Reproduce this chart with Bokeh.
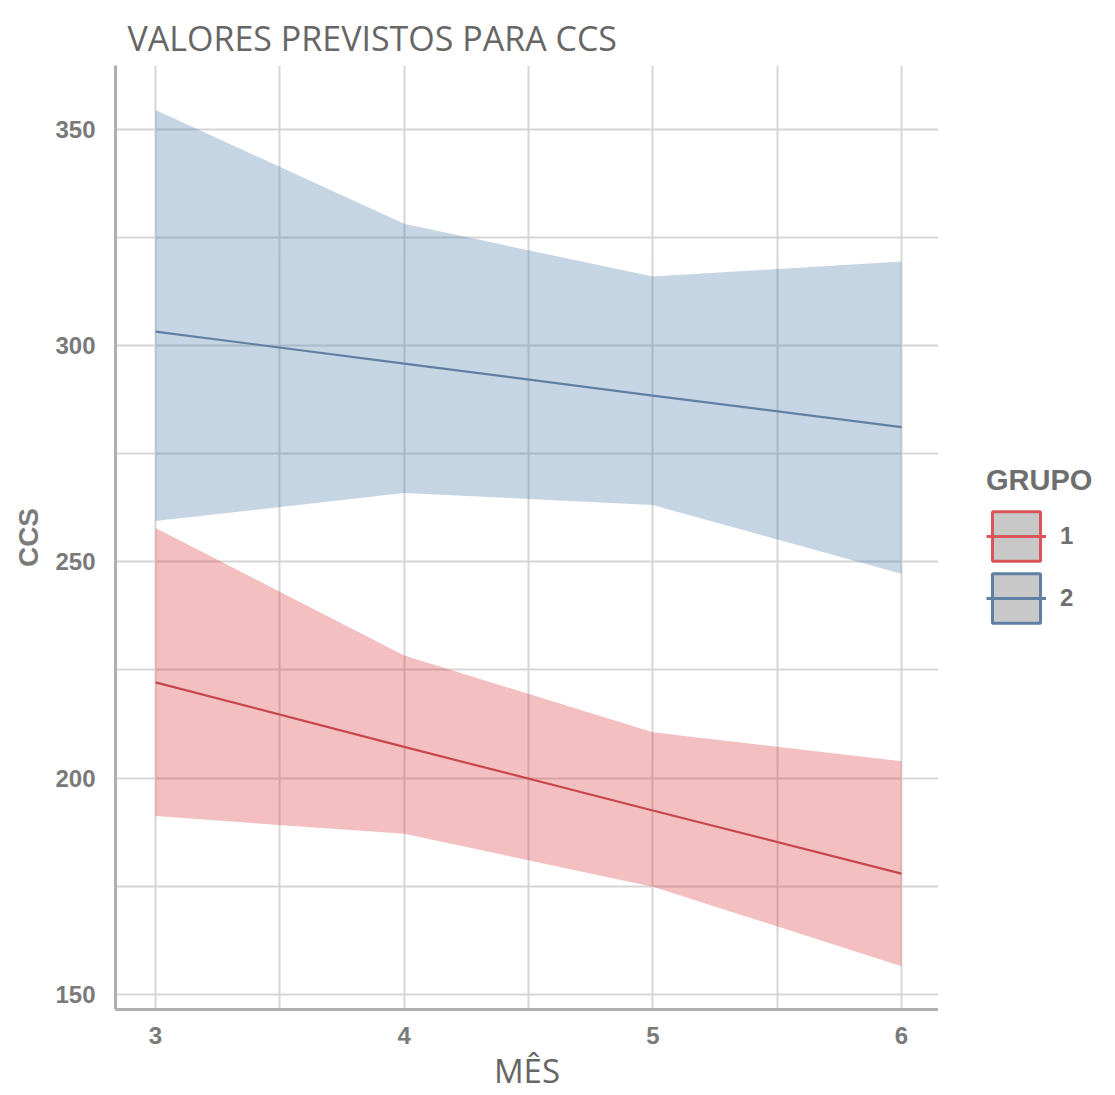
from bokeh.plotting import figure
from bokeh.models import ColumnDataSource, Legend, LegendItem, FixedTicker, Range1d
from bokeh.layouts import row
from bokeh.embed import file_html
from bokeh.resources import INLINE

months = [3, 4, 5, 6]
g1_fit = [222.1, 207.2, 192.5, 177.9]
g1_lower = [191.2, 187.1, 174.9, 156.5]
g1_upper = [257.8, 228.3, 210.6, 203.9]
g2_fit = [303.2, 295.8, 288.4, 281.1]
g2_lower = [259.4, 265.9, 263.1, 247.2]
g2_upper = [354.4, 328.1, 315.9, 319.4]
groups = ["1", "2"]
x_ticks = [3, 4, 5, 6]
y_ticks = [150, 200, 250, 300, 350]

red_fill, red_line, red_key = "#d72a30", "#c8474c", "#d9555a"
blue_fill, blue_line, blue_key = "#4173a2", "#5f7fa3", "#5f7fa3"
grey_txt = "#7a7a7a"

p = figure(width=938, height=1095, output_backend="svg", toolbar_location=None,
           x_range=Range1d(2.839, 6.149), y_range=Range1d(146.5, 364.7),
           min_border_left=115, min_border_right=0, min_border_top=65, min_border_bottom=82)

p.title.text = "VALORES PREVISTOS PARA CCS"
p.title.text_font = "Open Sans"
p.title.text_font_style = "normal"
p.title.text_font_size = "34px"
p.title.text_color = "#666666"
p.title.offset = 12
p.title.standoff = 10

src1 = ColumnDataSource(dict(x=months, fit=g1_fit, lo=g1_lower, hi=g1_upper))
src2 = ColumnDataSource(dict(x=months, fit=g2_fit, lo=g2_lower, hi=g2_upper))

p.varea(x="x", y1="lo", y2="hi", source=src2, fill_color=blue_fill, fill_alpha=0.3)
p.varea(x="x", y1="lo", y2="hi", source=src1, fill_color=red_fill, fill_alpha=0.3)
p.line(x="x", y="fit", source=src2, line_color=blue_line, line_width=2.2)
p.line(x="x", y="fit", source=src1, line_color=red_line, line_width=2.2)

for ax in (p.xaxis, p.yaxis):
    ax.axis_line_color = "#b0b0b0"
    ax.axis_line_width = 3
    ax.major_tick_line_color = None
    ax.minor_tick_line_color = None
    ax.major_label_text_font = "Liberation Sans"
    ax.major_label_text_font_style = "bold"
    ax.major_label_text_font_size = "24px"
    ax.major_label_text_color = grey_txt

p.xaxis.ticker = FixedTicker(ticks=x_ticks, minor_ticks=[3.5, 4.5, 5.5])
p.yaxis.ticker = FixedTicker(ticks=y_ticks, minor_ticks=[175, 225, 275, 325])
p.xaxis.major_label_standoff = 11
p.yaxis.major_label_standoff = 14

p.xaxis.axis_label = "MÊS"
p.xaxis.axis_label_text_font = "Open Sans"
p.xaxis.axis_label_text_font_style = "normal"
p.xaxis.axis_label_text_font_size = "33px"
p.xaxis.axis_label_text_color = "#666666"
p.xaxis.axis_label_standoff = 1

p.yaxis.axis_label = "CCS"
p.yaxis.axis_label_text_font = "Liberation Sans"
p.yaxis.axis_label_text_font_style = "bold"
p.yaxis.axis_label_text_font_size = "28px"
p.yaxis.axis_label_text_color = grey_txt
p.yaxis.axis_label_standoff = 8

for g in (p.xgrid, p.ygrid):
    g.grid_line_color = "#d6d6d6"
    g.grid_line_width = 2
    g.minor_grid_line_color = "#d6d6d6"
    g.minor_grid_line_width = 2

p.outline_line_color = None

# ---- legend panel (separate figure to the right) ----
lg = figure(width=175, height=1095, output_backend="svg", toolbar_location=None,
            x_range=Range1d(0, 1), y_range=Range1d(0, 1),
            min_border_left=0, min_border_right=0, min_border_top=0, min_border_bottom=0)
lg.axis.visible = False
lg.grid.visible = False
lg.outline_line_color = None

nan = float("nan")
dummy = ColumnDataSource(dict(l=[nan], r=[nan], b=[nan], t=[nan], x=[nan], y=[nan]))
items = []
for lab, col in zip(groups, [red_key, blue_key]):
    q = lg.quad(left="l", right="r", bottom="b", top="t", source=dummy,
                fill_color="#c8c8c8", line_color=col, line_width=3)
    ln = lg.line(x="x", y="y", source=dummy, line_color=col, line_width=3)
    items.append(LegendItem(label=lab, renderers=[q, ln], index=0))

legend = Legend(items=items, title="GRUPO", location=(48, 380))
legend.title_text_font = "Liberation Sans"
legend.title_text_font_style = "bold"
legend.title_text_font_size = "29px"
legend.title_text_color = "#6e6e6e"
legend.title_standoff = 8
legend.label_text_font = "Liberation Sans"
legend.label_text_font_style = "bold"
legend.label_text_font_size = "24px"
legend.label_text_color = "#6e6e6e"
legend.label_standoff = 14
legend.glyph_width = 60
legend.glyph_height = 62
legend.spacing = 0
legend.border_line_color = None
legend.background_fill_alpha = 0
legend.padding = 0
legend.margin = 0
lg.add_layout(legend)

layout = row(p, lg)
open("out.html", "w").write(file_html(layout, INLINE))
